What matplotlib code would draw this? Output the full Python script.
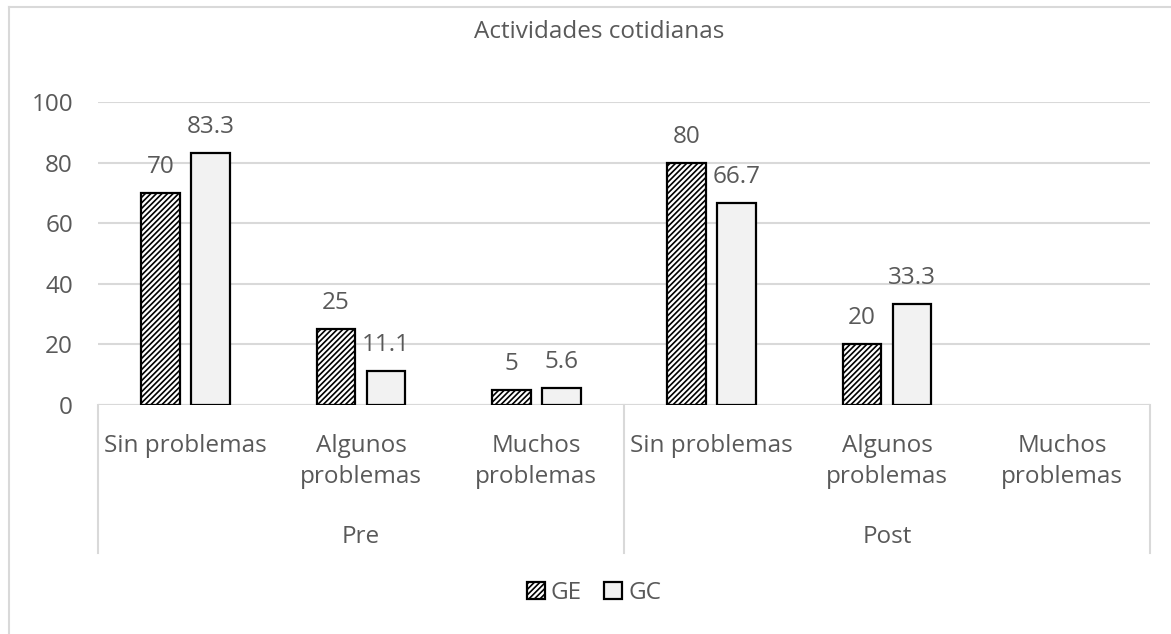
import matplotlib
matplotlib.use("Agg")
import matplotlib.pyplot as plt
import matplotlib.patches as mpatches
from matplotlib.lines import Line2D
import numpy as np

plt.rcParams['font.family'] = ['Open Sans', 'DejaVu Sans']
plt.rcParams['hatch.linewidth'] = 1.2

# chart data
title = "Actividades cotidianas"
periods = ["Pre", "Post"]
categories = ["Sin problemas", "Algunos\nproblemas", "Muchos\nproblemas"]
ge_values = [70, 25, 5, 80, 20, None]
gc_values = [83.3, 11.1, 5.6, 66.7, 33.3, None]
series_names = ["GE", "GC"]
y_ticks = [0, 20, 40, 60, 80, 100]

TEXT = "#595959"
GRID = "#d9d9d9"
FS = 17.5

W, H = 1171, 634
fig = plt.figure(figsize=(W / 100, H / 100), dpi=100)
ax = fig.add_axes([98 / W, 1 - 405 / H, (1150 - 98) / W, (405 - 102) / H])

n = len(periods) * len(categories)
width = 0.22
off = 0.143

# one bar set per series, skipping empty cells
for vals, sign, face, hatch in ((ge_values, -1, "white", "//////"),
                                (gc_values, 1, "#f2f2f2", None)):
    xs = [i + sign * off for i, v in enumerate(vals) if v is not None]
    hs = [v for v in vals if v is not None]
    ax.bar(xs, hs, width, color=face, edgecolor="black", hatch=hatch,
           linewidth=1.6, zorder=3)
    for xi, v in zip(xs, hs):
        ax.annotate(f"{v:g}", (xi, v), xytext=(0, 20), textcoords="offset pixels",
                    ha="center", va="baseline", fontsize=FS, color=TEXT)

ax.set_xlim(-0.5, n - 0.5)
ax.set_ylim(0, 100)
ax.set_yticks(y_ticks)
ax.set_yticklabels([str(t) for t in y_ticks], fontsize=FS, color=TEXT)
ax.tick_params(axis="y", length=0, pad=18)
ax.set_xticks([])
for s in ax.spines.values():
    s.set_visible(False)
ax.grid(axis="y", color=GRID, linewidth=1.5, zorder=0)
ax.axhline(0, color=GRID, linewidth=1.5, zorder=1)

# two-level category axis
ph = 303.0  # axes height in pixels
trans = ax.get_xaxis_transform()
for i in range(n):
    lines = categories[i % len(categories)].split("\n")
    for j, line in enumerate(lines):
        ax.text(i, -(47 + 31 * j) / ph, line, transform=trans, ha="center",
                va="baseline", fontsize=FS, color=TEXT)
for k, p in enumerate(periods):
    mid = k * len(categories) + (len(categories) - 1) / 2
    ax.text(mid, -138 / ph, p, transform=trans, ha="center", va="baseline",
            fontsize=FS, color=TEXT)
for k in range(len(periods) + 1):
    xs = k * len(categories) - 0.5
    ax.add_line(Line2D([xs, xs], [0, -148 / ph], transform=trans, color=GRID,
                       linewidth=1.5, clip_on=False))

fig.text(599 / W, 1 - 38 / H, title, ha="center", va="baseline", fontsize=FS,
         color=TEXT)

handles = [
    mpatches.Patch(facecolor="white", edgecolor="black", hatch="//////",
                   linewidth=1.6, label=series_names[0]),
    mpatches.Patch(facecolor="#f2f2f2", edgecolor="black", linewidth=1.6,
                   label=series_names[1]),
]
fig.legend(handles=handles, loc="center", bbox_to_anchor=(594 / W, 1 - 593 / H),
           ncol=2, frameon=False, fontsize=FS, labelcolor=TEXT,
           handlelength=0.75, handleheight=0.75, handletextpad=0.25,
           columnspacing=0.9, borderpad=0)

# chart area border
fig.add_artist(Line2D([9 / W, 9 / W], [0, 1 - 7 / H], color=GRID, linewidth=1.5))
fig.add_artist(Line2D([9 / W, 1], [1 - 7 / H, 1 - 7 / H], color=GRID, linewidth=1.5))

fig.savefig("out.png", dpi=100, facecolor="white")
